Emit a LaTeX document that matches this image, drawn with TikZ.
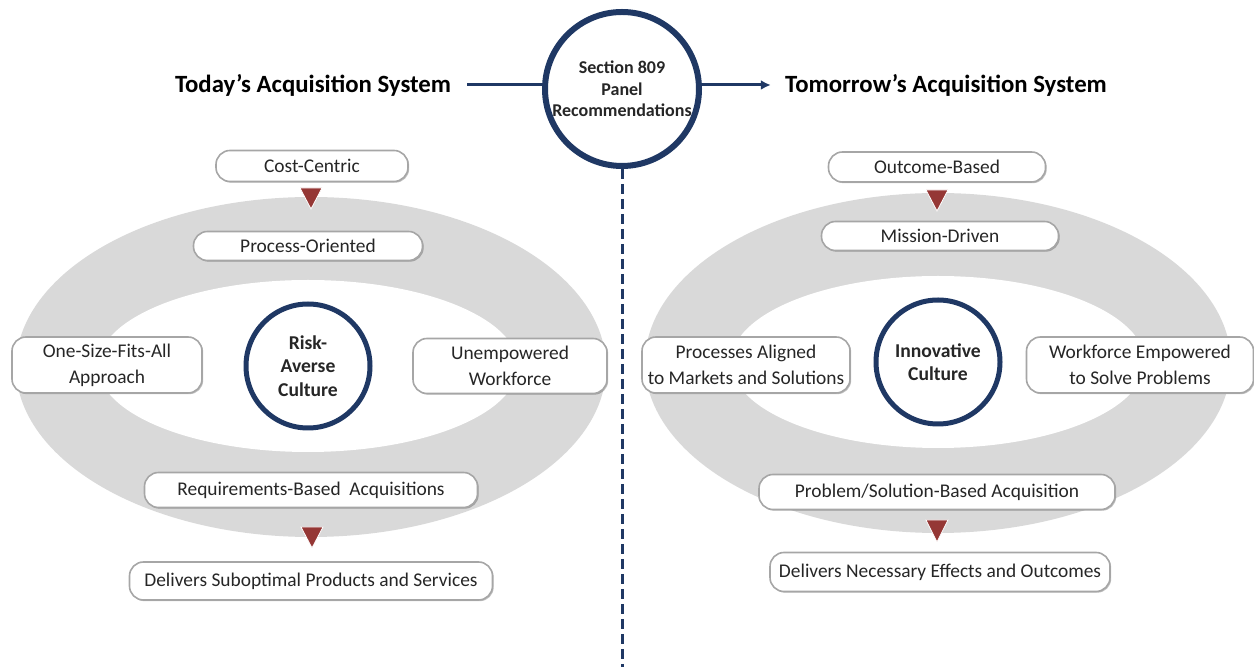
\documentclass[tikz,border=0pt]{standalone}
\usepackage{fontspec}
\setmainfont{Carlito}
\usetikzlibrary{positioning,shadows,arrows.meta}
\definecolor{navy}{HTML}{1F3864}
\definecolor{darkred}{HTML}{953735}
\definecolor{ringgray}{HTML}{D9D9D9}
\definecolor{boxline}{HTML}{A6A6A6}
\definecolor{txtgray}{HTML}{262626}
\tikzset{
	pill/.style={draw=boxline, line width=0.8pt, fill=white, rounded corners=7pt,
		align=center, inner sep=0pt, text=txtgray, font=\fontsize{9.7}{13}\selectfont,
		drop shadow={shadow xshift=0.6pt, shadow yshift=-0.6pt, opacity=0.25, fill=black}},
	culture/.style={circle, draw=navy, line width=2.5pt, fill=white, minimum size=62pt,
		align=center, inner sep=0pt, font=\bfseries\fontsize{9.8}{11.7}\selectfont, text=txtgray},
	headline/.style={font=\bfseries\fontsize{12.4}{14}\selectfont, inner sep=2pt},
	marker/.style={fill=darkred, draw=white, line width=0.4pt}
}

\begin{document}
\begin{tikzpicture}[x=0.5pt, y=-0.5pt]
		\useasboundingbox (0,0) rectangle (1254,667);
		
		% Coordinates
		\coordinate (C_sec) at (622, 89);
		\coordinate (C_bottom) at (622, 667);
		\coordinate (C_L) at (311, 367);
		\coordinate (C_R) at (938, 363);
		
		% Gray rings
		\fill[ringgray] (C_L) ellipse [x radius=147.5pt, y radius=85pt];
		\fill[white] (308, 366) ellipse [x radius=105pt, y radius=43pt];
		\fill[ringgray] (C_R) ellipse [x radius=146.5pt, y radius=85pt];
		\fill[white] (938, 362) ellipse [x radius=103.5pt, y radius=43pt];
		
		% Center and headlines
		\node[circle, draw=navy, line width=3pt, fill=white, minimum size=77pt, inner sep=0pt,
			align=center, font=\bfseries\fontsize{9}{10.7}\selectfont, text=txtgray]
			(sec) at (C_sec) {Section 809\\Panel\\Recommendations};
		\node[headline] (today) at (313, 85) {Today’s Acquisition System};
		\node[headline] (tomorrow) at (946, 85) {Tomorrow’s Acquisition System};
		
		\draw[navy, line width=1.5pt, shorten <=6pt] (today.east) -- (today.east -| sec.west);
		\draw[navy, line width=1.5pt, -{Latex[length=5pt, width=5pt]}, shorten >=5pt] (sec.east |- tomorrow.west) -- (tomorrow.west);
		\draw[navy, line width=1.5pt, dash pattern=on 5pt off 2.5pt] (sec.south) -- (C_bottom);
		
		% Today
		\node[pill, minimum width=96pt, minimum height=15.5pt] (cost) at (312, 166) {Cost-Centric};
		\node[pill, minimum width=114.5pt, minimum height=14.5pt] (process) at (308, 246) {Process-Oriented};
		\node[pill, minimum width=95pt, minimum height=28pt] (onesize) at (107, 365) {One-Size-Fits-All\\Approach};
		\node[culture] (risk) at (308, 366) {Risk-\\Averse\\Culture};
		\node[pill, minimum width=97pt, minimum height=27.5pt] (unemp) at (510, 366) {Unempowered\\Workforce};
		\node[pill, minimum width=166.5pt, minimum height=17.5pt] (reqs) at (311, 490) {Requirements-Based\ \ Acquisitions};
		\node[pill, minimum width=181.5pt, minimum height=19pt] (subopt) at (311, 581) {Delivers Suboptimal Products and Services};
		
		\filldraw[marker] (300, 188) -- (322, 188) -- (311, 209) -- cycle;
		\filldraw[marker] (301, 527) -- (323, 527) -- (312, 548) -- cycle;
		
		% Tomorrow
		\node[pill, minimum width=108.5pt, minimum height=15pt] (outcome) at (937, 167) {Outcome-Based};
		\node[pill, minimum width=118.5pt, minimum height=14.5pt] (mission) at (940, 236) {Mission-Driven};
		\node[pill, minimum width=104pt, minimum height=28pt] (aligned) at (746, 365) {Processes Aligned\\to Markets and Solutions};
		\node[culture] (innov) at (938, 362) {Innovative\\Culture};
		\node[pill, minimum width=113.5pt, minimum height=28pt] (empow) at (1140, 365) {Workforce Empowered\\to Solve Problems};
		\node[pill, minimum width=178pt, minimum height=17.5pt] (probsol) at (937, 492) {Problem/Solution-Based Acquisition};
		\node[pill, minimum width=170pt, minimum height=19.5pt] (effects) at (940, 572) {Delivers Necessary Effects and Outcomes};
		
		\filldraw[marker] (926, 190) -- (948, 190) -- (937, 211) -- cycle;
		\filldraw[marker] (926, 520) -- (948, 520) -- (937, 542) -- cycle;
	\end{tikzpicture}
\end{document}
